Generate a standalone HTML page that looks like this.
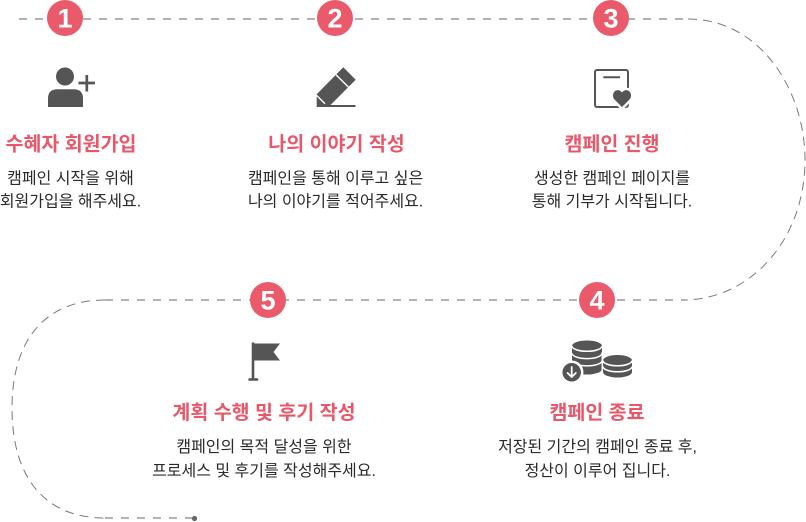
<!DOCTYPE html>
<html lang="ko">
<head>
<meta charset="utf-8">
<style>
  html, body { margin: 0; padding: 0; background: #ffffff; }
  body { width: 806px; height: 522px; overflow: hidden; }
  svg { display: block; }
  .t { font-family: "Liberation Sans", "Noto Sans CJK KR", sans-serif; font-size: 19.5px; font-weight: bold; fill: #e9576a; }
  .d { font-family: "Liberation Sans", "Noto Sans CJK KR", sans-serif; font-size: 16px; fill: #2a2a2a; }
  .n { font-family: "Liberation Sans", "DejaVu Sans", sans-serif; font-size: 27px; font-weight: bold; fill: #ffffff; }
</style>
</head>
<body>
<svg width="806" height="522" viewBox="0 0 806 522" xmlns="http://www.w3.org/2000/svg">
  <!-- dashed connectors -->
  <line x1="19" y1="19" x2="690" y2="19" stroke="#b3b3b3" stroke-width="2" stroke-dasharray="8 8"/>
  <path d="M 688 19 C 760 19, 805 90, 805 160 C 805 240, 750 300, 683 300" fill="none" stroke="#7a7a7a" stroke-width="1" stroke-dasharray="9 6"/>
  <line x1="105" y1="300" x2="685" y2="300" stroke="#b3b3b3" stroke-width="2" stroke-dasharray="8 8"/>
  <path d="M 105 300 C 45 300, 12 340, 12 408 C 12 478, 45 518, 105 518" fill="none" stroke="#7a7a7a" stroke-width="1" stroke-dasharray="9 6"/>
  <line x1="105" y1="518" x2="192" y2="518" stroke="#b3b3b3" stroke-width="2" stroke-dasharray="8 8"/>
  <circle cx="194.5" cy="518.5" r="2.6" fill="#666"/>

  <!-- number circles -->
  <circle cx="65" cy="18" r="18" fill="#ea5a6b"/>
  <text class="n" x="65" y="27.7" text-anchor="middle">1</text>
  <circle cx="335" cy="18" r="18" fill="#ea5a6b"/>
  <text class="n" x="335" y="27.7" text-anchor="middle">2</text>
  <circle cx="611" cy="18" r="18" fill="#ea5a6b"/>
  <text class="n" x="611" y="27.7" text-anchor="middle">3</text>
  <circle cx="597" cy="300" r="18" fill="#ea5a6b"/>
  <text class="n" x="597" y="309.7" text-anchor="middle">4</text>
  <circle cx="268" cy="300" r="18" fill="#ea5a6b"/>
  <text class="n" x="268" y="309.7" text-anchor="middle">5</text>

  <!-- icon 1: person plus -->
  <g fill="#555">
    <circle cx="65" cy="76.5" r="9"/>
    <path d="M 48 107 L 48 98.5 Q 48 89.3 57.5 89.3 L 73.5 89.3 Q 83 89.3 83 98.5 L 83 107 Z"/>
  </g>
  <g stroke="#555" stroke-width="2.7">
    <line x1="78.5" y1="83" x2="95" y2="83"/>
    <line x1="86.8" y1="75" x2="86.8" y2="91.5"/>
  </g>

  <!-- icon 2: pencil -->
  <path d="M 316.7 94.3 L 343.3 67.3 L 355.7 79.7 L 330 105.5 L 330 107 L 316.7 107 Z" fill="#555"/>
  <rect x="329" y="105" width="26.5" height="2" fill="#555"/>
  <g stroke="#fff" stroke-width="1.4">
    <line x1="336" y1="74.7" x2="348.3" y2="87"/>
    <line x1="316.5" y1="95.3" x2="325" y2="103.8"/>
  </g>

  <!-- icon 3: document with heart -->
  <rect x="595" y="70" width="33" height="37" rx="2" fill="none" stroke="#555" stroke-width="2"/>
  <line x1="603.3" y1="77.3" x2="620" y2="77.3" stroke="#555" stroke-width="2"/>
  <path d="M 622 107 L 614.5 99.5 C 612.5 97.5 612.5 93.5 614.5 91.5 C 616.5 89.5 620 89.5 622 92.5 C 624 89.5 627.5 89.5 629.5 91.5 C 631.5 93.5 631.5 97.5 629.5 99.5 Z" fill="#fff" stroke="#fff" stroke-width="5" stroke-linejoin="round"/>
  <path d="M 622 107 L 614.5 99.5 C 612.5 97.5 612.5 93.5 614.5 91.5 C 616.5 89.5 620 89.5 622 92.5 C 624 89.5 627.5 89.5 629.5 91.5 C 631.5 93.5 631.5 97.5 629.5 99.5 Z" fill="#555"/>

  <!-- icon 4: coins -->
  <g fill="#555">
    <ellipse cx="587" cy="346" rx="15" ry="5.5"/>
    <rect x="572" y="346" width="30" height="23"/>
    <ellipse cx="587" cy="369" rx="15" ry="5.5"/>
    <ellipse cx="617.5" cy="360.5" rx="14.5" ry="5.5"/>
    <rect x="603" y="360.5" width="29" height="11.5"/>
    <ellipse cx="617.5" cy="372" rx="14.5" ry="5.5"/>
  </g>
  <g fill="none" stroke="#fff" stroke-width="1.5">
    <path d="M 572 346 A 15 5.3 0 0 0 602 346"/>
    <path d="M 572 353.3 A 15 5.3 0 0 0 602 353.3"/>
    <path d="M 572 360.6 A 15 5.3 0 0 0 602 360.6"/>
    <path d="M 603 360.5 A 14.5 5.3 0 0 0 632 360.5"/>
    <path d="M 603 366.5 A 14.5 5.3 0 0 0 632 366.5"/>
    <line x1="602.3" y1="352" x2="602.3" y2="377"/>
  </g>
  <circle cx="571.7" cy="372.3" r="10.5" fill="#555" stroke="#fff" stroke-width="2.5"/>
  <g stroke="#fff" stroke-width="1.8" fill="none" stroke-linecap="round" stroke-linejoin="round">
    <line x1="571.7" y1="367" x2="571.7" y2="377"/>
    <polyline points="567.6,373 571.7,377 575.8,373"/>
  </g>

  <!-- icon 5: flag -->
  <g fill="#555">
    <rect x="251.7" y="342.5" width="2.6" height="37"/>
    <rect x="248.3" y="378.3" width="10" height="2.4" rx="1"/>
    <path d="M 254 343.5 L 280 343.5 L 273.5 352 L 280 360.5 L 254 360.5 Z"/>
  </g>

  <!-- titles -->
  <text class="t" x="71" y="150.4" text-anchor="middle">수혜자 회원가입</text>
  <text class="t" x="336.5" y="150.4" text-anchor="middle">나의 이야기 작성</text>
  <text class="t" x="612" y="150.4" text-anchor="middle">캠페인 진행</text>
  <text class="t" x="597" y="419.1" text-anchor="middle">캠페인 종료</text>
  <text class="t" x="264" y="419.1" text-anchor="middle">계획 수행 및 후기 작성</text>

  <!-- descriptions -->
  <text class="d" x="70.5" y="183.6" text-anchor="middle">캠페인 시작을 위해</text>
  <text class="d" x="70.5" y="206.6" text-anchor="middle">회원가입을 해주세요.</text>

  <text class="d" x="335.6" y="183.6" text-anchor="middle">캠페인을 통해 이루고 싶은</text>
  <text class="d" x="335.6" y="206.6" text-anchor="middle">나의 이야기를 적어주세요.</text>

  <text class="d" x="612" y="183.6" text-anchor="middle">생성한 캠페인 페이지를</text>
  <text class="d" x="612" y="206.6" text-anchor="middle">통해 기부가 시작됩니다.</text>

  <text class="d" x="597.5" y="452.1" text-anchor="middle">저장된 기간의 캠페인 종료 후,</text>
  <text class="d" x="597.5" y="476.1" text-anchor="middle">정산이 이루어 집니다.</text>

  <text class="d" x="264" y="452.1" text-anchor="middle">캠페인의 목적 달성을 위한</text>
  <text class="d" x="264" y="476.1" text-anchor="middle">프로세스 및 후기를 작성해주세요.</text>
</svg>
</body>
</html>
